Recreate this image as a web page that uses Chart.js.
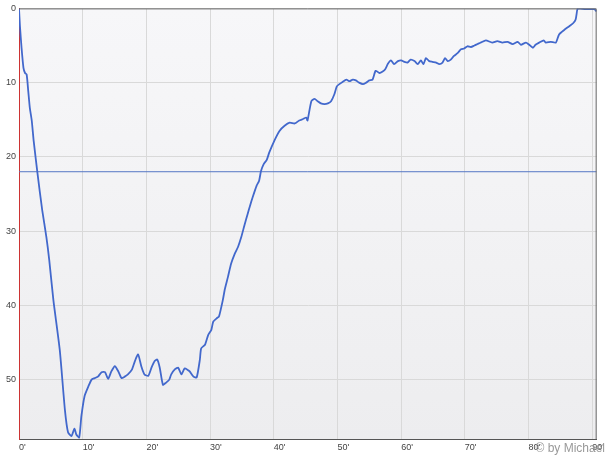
<!DOCTYPE html>
<html>
<head>
<meta charset="utf-8">
<script src="https://cdn.jsdelivr.net/npm/chart.js@4/dist/chart.umd.min.js"></script>
<style>
  html, body { margin: 0; padding: 0; background: #fff; }
</style>
</head>
<body>
<canvas id="chart" width="607" height="455"></canvas>
<script>
// race minutes and position
const minutes = [
  0, 0.15, 0.4, 0.7, 0.95, 1.2, 1.45, 1.7, 2.0, 2.3, 2.9, 3.65, 4.3, 4.75, 5.4, 6.4, 7.2, 7.7, 8.25, 8.7,
  9.0, 9.45, 9.8, 10.3, 10.9, 11.4, 11.9, 12.4, 12.96, 13.5, 14.0, 14.5, 15.05, 15.6, 16.1, 16.6, 17.1, 17.7, 18.2, 18.7,
  19.2, 19.7, 20.3, 20.8, 21.3, 21.7, 22.1, 22.6, 23.1, 23.6, 23.9, 24.5, 25.0, 25.5, 26.0, 26.5, 26.8, 27.4, 27.9, 28.4,
  28.6, 29.2, 29.7, 30.2, 30.5, 31.1, 31.4, 32.0, 32.3, 32.8, 33.3, 33.9, 34.4, 34.9, 35.4, 35.9, 36.3, 36.7, 37.3, 37.7,
  38.0, 38.4, 38.9, 39.3, 40.1, 40.9, 41.7, 42.5, 43.3, 44.0, 44.6, 45.1, 45.3, 45.9, 46.4, 46.9, 47.4, 47.96, 48.5, 49.0,
  49.5, 49.9, 50.3, 50.8, 51.4, 51.9, 52.4, 52.9, 53.4, 54.0, 54.5, 55.0, 55.5, 56.0, 56.6, 57.1, 57.5, 57.9, 58.4, 58.9,
  59.5, 60.0, 60.5, 61.0, 61.5, 62.1, 62.6, 63.1, 63.5, 63.9, 64.4, 64.9, 65.5, 66.0, 66.5, 66.9, 67.3, 67.8, 68.3, 68.9,
  69.4, 69.9, 70.4, 70.95, 71.5, 72.0, 72.5, 73.3, 74.3, 75.1, 75.9, 76.7, 77.5, 78.3, 78.8, 79.6, 80.1, 80.7, 81.1, 81.7,
  82.4, 82.7, 83.5, 84.3, 84.8, 85.6, 86.4, 87.0, 87.4, 87.65, 87.8, 89.0, 90.3, 90.7
];
const position = [
  0, 2.4, 5.3, 8, 8.7, 8.9, 11.1, 13.4, 15.1, 17.8, 22.2, 27.2, 30.8, 33.9, 39.3, 46, 54, 57.1, 57.6, 56.6,
  57.4, 57.8, 54.9, 52.2, 50.9, 50, 49.8, 49.6, 49, 49, 49.9, 48.9, 48.2, 48.9, 49.8, 49.6, 49.3, 48.7, 47.5, 46.6,
  48.2, 49.3, 49.5, 48.4, 47.5, 47.3, 48.4, 50.7, 50.4, 50, 49.3, 48.6, 48.4, 49.3, 48.5, 48.7, 48.9, 49.6, 49.7, 47.3,
  45.8, 45.3, 44, 43.3, 42.2, 41.7, 41.5, 39.3, 37.9, 36.2, 34.4, 33, 32.1, 30.8, 29.2, 27.7, 26.5, 25.4, 23.9, 23.2,
  21.9, 21, 20.4, 19.4, 17.8, 16.5, 15.8, 15.4, 15.5, 15.1, 14.9, 14.7, 15.1, 12.5, 12.2, 12.5, 12.8, 12.9, 12.8, 12.5,
  11.6, 10.5, 10.2, 9.9, 9.6, 9.8, 9.6, 9.7, 10, 10.2, 10, 9.7, 9.6, 8.4, 8.7, 8.5, 8.2, 7.5, 7.0, 7.5,
  7.1, 7.0, 7.2, 7.3, 6.9, 7.1, 7.5, 7.0, 7.5, 6.7, 7.1, 7.2, 7.3, 7.5, 7.3, 6.7, 7.1, 6.9, 6.4, 6.0,
  5.5, 5.4, 5.1, 5.2, 5.0, 4.8, 4.6, 4.3, 4.6, 4.4, 4.6, 4.5, 4.8, 4.5, 4.9, 4.6, 4.9, 5.3, 4.9, 4.6,
  4.3, 4.6, 4.5, 4.6, 3.5, 2.9, 2.4, 2.0, 1.5, 0.2, 0, 0.1, 0.1, 0.4
];
const refLevel = 22;
const xMax = 90.7;
const yMax = 58;

const plotBackground = {
  id: 'plotBackground',
  beforeDraw(chart) {
    const { ctx, chartArea: a } = chart;
    const g = ctx.createLinearGradient(0, a.top, 0, a.bottom);
    g.addColorStop(0, '#f7f7f9');
    g.addColorStop(1, '#ededef');
    ctx.save();
    ctx.fillStyle = g;
    ctx.fillRect(a.left, a.top, a.right - a.left, a.bottom - a.top);
    ctx.restore();
  },
  afterDraw(chart) {
    const { ctx, chartArea: a } = chart;
    ctx.save();
    ctx.strokeStyle = '#666';
    ctx.lineWidth = 1;
    ctx.beginPath();
    ctx.moveTo(a.left, a.top + 0.5);
    ctx.lineTo(a.right - 0.5, a.top + 0.5);
    ctx.lineTo(a.right - 0.5, a.bottom);
    ctx.stroke();
    ctx.fillStyle = '#999';
    ctx.font = '12px "Liberation Sans", Arial, sans-serif';
    ctx.textAlign = 'right';
    ctx.textBaseline = 'middle';
    ctx.fillText('\u00a9 by Michael', 605, 449);
    ctx.restore();
  }
};

new Chart(document.getElementById('chart'), {
  type: 'line',
  data: {
    datasets: [
      {
        data: minutes.map((m, i) => ({ x: m, y: position[i] })),
        borderColor: '#4268cc',
        borderWidth: 1.8,
        pointRadius: 0,
        tension: 0.2
      },
      {
        data: [{ x: 0, y: refLevel }, { x: xMax, y: refLevel }],
        borderColor: '#5577c4',
        borderWidth: 1,
        pointRadius: 0
      }
    ]
  },
  options: {
    responsive: false,
    animation: false,
    layout: { padding: { top: 7, right: 9, left: 0, bottom: 0 } },
    plugins: { legend: { display: false }, tooltip: { enabled: false } },
    scales: {
      x: {
        type: 'linear',
        min: 0,
        max: xMax,
        afterFit(s) { s.height = 16; },
        grid: { color: '#d9d9d9', drawTicks: false },
        border: { color: '#555', width: 1 },
        ticks: {
          stepSize: 10,
          includeBounds: false,
          align: 'start',
          padding: 3,
          color: '#444',
          font: { family: '"Liberation Sans", Arial, sans-serif', size: 9 },
          callback: v => v + "'"
        }
      },
      y: {
        min: 0,
        max: yMax,
        reverse: true,
        afterFit(s) { s.width = 19; },
        grid: { color: '#d9d9d9', drawTicks: false },
        border: { color: '#cc3333', width: 1 },
        ticks: {
          stepSize: 10,
          includeBounds: false,
          padding: 3,
          color: '#444',
          font: { family: '"Liberation Sans", Arial, sans-serif', size: 9 }
        }
      }
    }
  },
  plugins: [plotBackground]
});
</script>
</body>
</html>
